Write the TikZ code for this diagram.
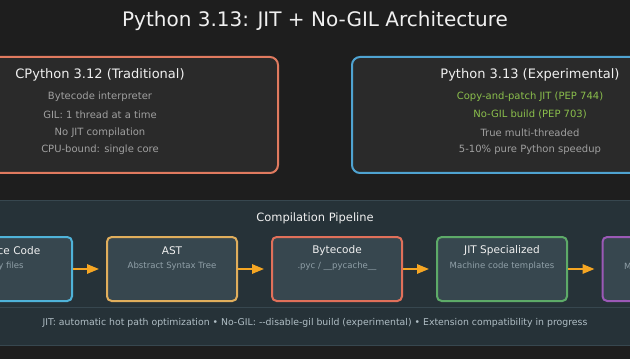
\documentclass[tikz,border=0pt]{standalone}
\usepackage{fontspec}
\setmainfont{DejaVu Sans}
\usetikzlibrary{arrows.meta}
\definecolor{bg}{HTML}{1E1E1E}
\definecolor{topfill}{HTML}{2A2A2A}
\definecolor{oldcol}{HTML}{E07A5F}
\definecolor{newcol}{HTML}{4FA3D1}
\definecolor{titlecol}{HTML}{F0F0F0}
\definecolor{bodycol}{HTML}{A0A0A0}
\definecolor{greencol}{HTML}{8BBF4C}
\definecolor{panelfill}{HTML}{263238}
\definecolor{panelline}{HTML}{37474F}
\definecolor{pipefill}{HTML}{37474F}
\definecolor{subcol}{HTML}{90A0A8}
\definecolor{footcol}{HTML}{B0BEC5}
\definecolor{cblue}{HTML}{4FB3D9}
\definecolor{cyellow}{HTML}{E0AE5C}
\definecolor{cred}{HTML}{E0705A}
\definecolor{cgreen}{HTML}{5DAA68}
\definecolor{cpurple}{HTML}{9B59B6}
\definecolor{arrowcol}{HTML}{F5A623}
\tikzset{
  topbox/.style={draw, line width=1.5pt, rounded corners=6pt, fill=topfill,
    minimum width=267pt, minimum height=87pt, inner sep=0pt},
  pipebox/.style={draw, line width=1.5pt, rounded corners=3.5pt, fill=pipefill,
    minimum width=97.5pt, minimum height=48pt, inner sep=0pt},
  toptitle/.style={text=titlecol, font=\fontsize{9.75pt}{11pt}\selectfont, inner sep=0pt},
  topline/.style={text=bodycol, font=\fontsize{7.5pt}{9pt}\selectfont, inner sep=0pt},
  pipetitle/.style={text=titlecol, font=\fontsize{7.9pt}{9pt}\selectfont, inner sep=0pt},
  pipesub/.style={text=subcol, font=\fontsize{6.4pt}{8pt}\selectfont, inner sep=0pt},
  flow/.style={draw=arrowcol, line width=1.5pt, -{Triangle[length=9pt,width=7pt]}, shorten >=5.25pt}
}
\begin{document}
\begin{tikzpicture}[x=0.75pt, y=-0.75pt]
\useasboundingbox (0,0) rectangle (630,359);
\clip (0,0) rectangle (630,359);
\fill[bg] (0,0) rectangle (630,359);

\node[text=titlecol, font=\fontsize{15pt}{18pt}\selectfont, inner sep=0pt] (title) at (315,21) {Python 3.13: JIT + No-GIL Architecture};

% top boxes
\node[topbox, draw=oldcol] (old) at (100,115) {};
\node[toptitle] (oldt) at (100,75) {CPython 3.12 (Traditional)};
\node[topline] (old1) at (100,96.7) {Bytecode interpreter};
\node[topline] (old2) at (100,114.3) {GIL: 1 thread at a time};
\node[topline] (old3) at (100,132.3) {No JIT compilation};
\node[topline] (old4) at (100,150) {CPU-bound: single core};

\node[topbox, draw=newcol] (new) at (530,115) {};
\node[toptitle] (newt) at (530,75) {Python 3.13 (Experimental)};
\node[topline, text=greencol] (new1) at (530,96.7) {Copy-and-patch JIT (PEP 744)};
\node[topline, text=greencol] (new2) at (530,114.3) {No-GIL build (PEP 703)};
\node[topline] (new3) at (530,132.3) {True multi-threaded};
\node[topline] (new4) at (530,150) {5-10\% pure Python speedup};

% pipeline panel
\node[draw=panelline, line width=0.75pt, fill=panelfill, minimum width=600pt, minimum height=108pt, inner sep=0pt] (panel) at (315,273) {};
\draw[panelline, line width=0.75pt] (-100,307) -- (730,307);
\node[text=titlecol, font=\fontsize{8.6pt}{10pt}\selectfont, inner sep=0pt] (ptitle) at (315,218) {Compilation Pipeline};

\node[pipebox, draw=cblue] (src) at (7,269) {};
\node[pipebox, draw=cyellow] (ast) at (172,269) {};
\node[pipebox, draw=cred] (byte) at (337,269) {};
\node[pipebox, draw=cgreen] (jit) at (502,269) {};
\node[pipebox, draw=cpurple] (nat) at (667.5,269) {};

\node[pipetitle] (srct) at (7,251) {Source Code};
\node[pipesub] (srcs) at (7,266) {.py files};
\node[pipetitle] (astt) at (172,251) {AST};
\node[pipesub] (asts) at (172,266) {Abstract Syntax Tree};
\node[pipetitle] (bytet) at (337,251) {Bytecode};
\node[pipesub] (bytes) at (337,266) {.pyc / \_\_pycache\_\_};
\node[pipetitle] (jitt) at (502,251) {JIT Specialized};
\node[pipesub] (jits) at (502,266) {Machine code templates};
\node[pipetitle] (natt) at (667.5,251) {Execution};
\node[pipesub] (nats) at (667.5,266) {Multi-core execution};

\draw[flow] (src) -- (ast);
\draw[flow] (ast) -- (byte);
\draw[flow] (byte) -- (jit);
\draw[flow] (jit) -- (nat);

\node[text=footcol, font=\fontsize{7pt}{8pt}\selectfont, inner sep=0pt] (foot) at (315,323) {JIT: automatic hot path optimization • No-GIL: -{}-disable-gil build (experimental) • Extension compatibility in progress};
\end{tikzpicture}
\end{document}
